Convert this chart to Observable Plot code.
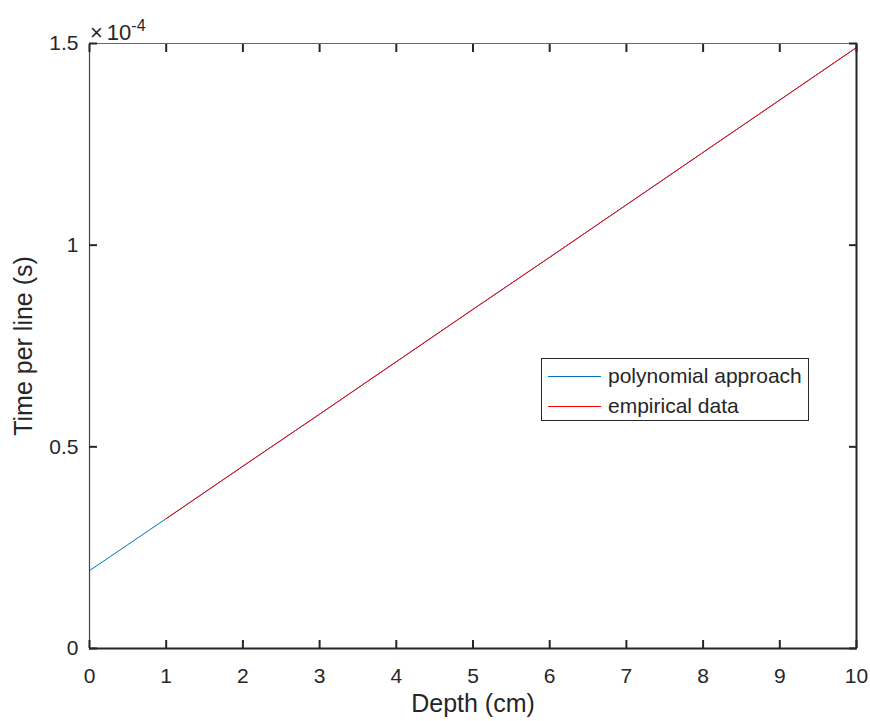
<!DOCTYPE html>
<html>
<head>
<meta charset="utf-8">
<script src="https://cdn.jsdelivr.net/npm/d3@7"></script>
<script src="https://cdn.jsdelivr.net/npm/@observablehq/plot@0.6"></script>
<style>
  body { margin: 0; background: #fff; }
  #wrap { position: relative; width: 870px; height: 721px; font-family: "Liberation Sans", Arial, sans-serif; }
  #legend { position: absolute; left: 541px; top: 358px; width: 268px; height: 63px; border: 1px solid #262626; background: #fff; box-sizing: border-box; }
  .row { position: absolute; left: 0; height: 24px; display: flex; align-items: center; font-size: 21px; color: #262626; white-space: nowrap; }
  .sw { width: 53px; height: 0; border-top: 1px solid; margin-left: 6px; margin-right: 7px; }
  #mult { position: absolute; left: 90px; top: 15px; font-size: 22px; line-height: 24px; color: #262626; white-space: nowrap; }
  #mult .x { margin-right: 4px; }
  #mult sup { font-size: 16px; position: relative; top: -1px; }
</style>
</head>
<body>
<div id="wrap"></div>
<script>
// Data (time values in units of 1e-4 s)
const depthPoly = [0, 1, 2, 3, 4, 5, 6, 7, 8, 9, 10];
const timePoly  = [0.193, 0.322, 0.452, 0.581, 0.711, 0.841, 0.970, 1.100, 1.230, 1.360, 1.490];
const depthEmp  = [1, 2, 3, 4, 5, 6, 7, 8, 9, 10];
const timeEmp   = [0.322, 0.452, 0.581, 0.711, 0.841, 0.970, 1.100, 1.230, 1.360, 1.490];
const xTicks = [0, 1, 2, 3, 4, 5, 6, 7, 8, 9, 10];
const yTicks = [0, 0.5, 1, 1.5];
const seriesNames = ["polynomial approach", "empirical data"];
const seriesColors = ["#0072BD", "#FF0000"];
const xLabel = "Depth (cm)";
const yLabel = "Time per line (s)";

const poly = depthPoly.map((d, i) => ({x: d, y: timePoly[i]}));
const emp = depthEmp.map((d, i) => ({x: d, y: timeEmp[i]}));

const dark = "#262626";
const chart = Plot.plot({
  width: 870,
  height: 721,
  marginLeft: 89,
  marginRight: 14,
  marginTop: 43,
  marginBottom: 73,
  style: {fontFamily: "'Liberation Sans', Arial, sans-serif", fontSize: "21px", color: dark, background: "white"},
  x: {domain: [0, 10]},
  y: {domain: [0, 1.5]},
  marks: [
    Plot.line(poly, {x: "x", y: "y", stroke: seriesColors[0], strokeWidth: 1}),
    Plot.line(emp, {x: "x", y: "y", stroke: seriesColors[1], strokeWidth: 1}),
    // frame
    Plot.ruleY([1.5], {stroke: "#666", strokeWidth: 1}),
    Plot.ruleX([0], {stroke: "#444", strokeWidth: 1.2}),
    Plot.ruleY([0], {stroke: dark, strokeWidth: 2}),
    Plot.ruleX([10], {stroke: dark, strokeWidth: 2}),
    // tick labels
    Plot.axisX(xTicks, {anchor: "bottom", tickSize: 0, tickPadding: 20, fontSize: 21, fill: dark, label: null}),
    Plot.axisY(yTicks, {anchor: "left", tickSize: 0, tickPadding: 11, fontSize: 21, fill: dark, label: null, tickFormat: d => String(d)}),
    // inward ticks
    Plot.axisX(xTicks, {anchor: "bottom", tickSize: 8, dy: -8, text: null, label: null, stroke: dark, strokeWidth: 2, strokeOpacity: 1}),
    Plot.axisX(xTicks, {anchor: "top", tickSize: 8, dy: 8, text: null, label: null, stroke: dark, strokeWidth: 2, strokeOpacity: 1}),
    Plot.axisY(yTicks, {anchor: "left", tickSize: 8, dx: 8, text: null, label: null, stroke: dark, strokeWidth: 2, strokeOpacity: 1}),
    Plot.axisY(yTicks, {anchor: "right", tickSize: 8, dx: -8, text: null, label: null, stroke: dark, strokeWidth: 2, strokeOpacity: 1}),
    // axis labels
    Plot.text([xLabel], {frameAnchor: "bottom", dy: 63, fontSize: 25, fill: dark, textAnchor: "middle"}),
    Plot.text([yLabel], {frameAnchor: "left", dx: -66, rotate: -90, fontSize: 25, fill: dark, textAnchor: "middle"})
  ]
});

const wrap = document.getElementById("wrap");
wrap.appendChild(chart);

const mult = document.createElement("div");
mult.id = "mult";
mult.innerHTML = "<span class='x'>×</span>10<sup>-4</sup>";
wrap.appendChild(mult);

const legend = document.createElement("div");
legend.id = "legend";
seriesNames.forEach((name, i) => {
  const row = document.createElement("div");
  row.className = "row";
  row.style.top = (5 + i * 30) + "px";
  const sw = document.createElement("div");
  sw.className = "sw";
  sw.style.borderTopColor = seriesColors[i];
  const t = document.createElement("span");
  t.textContent = name;
  row.appendChild(sw);
  row.appendChild(t);
  legend.appendChild(row);
});
wrap.appendChild(legend);
</script>
</body>
</html>
